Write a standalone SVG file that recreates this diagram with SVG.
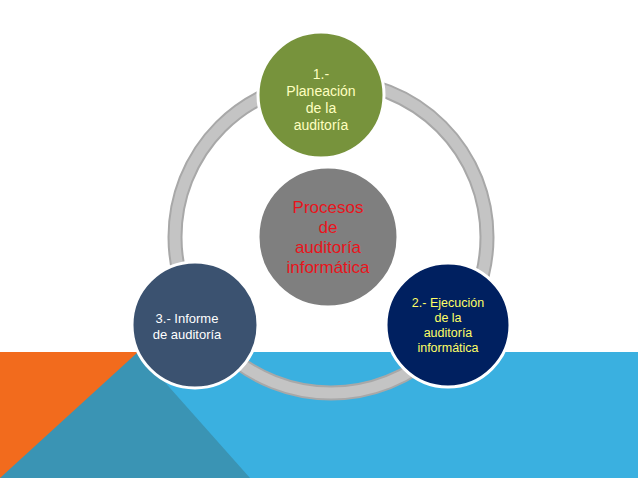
<svg xmlns="http://www.w3.org/2000/svg" width="638" height="479" viewBox="0 0 638 479">
<style>
.n{stroke:#fff;stroke-width:3}
text{font-family:"Liberation Sans",Arial,sans-serif;text-anchor:middle}
</style>
<rect width="638" height="479" fill="#fff"/>
<rect x="0" y="352" width="638" height="126" fill="#3ab0e0"/>
<rect x="0" y="352" width="140" height="126" fill="#f26b1d"/>
<polygon points="138,352 0,478 250,478" fill="#3a94b4"/>
<g id="connectors">
<circle cx="331" cy="237" r="156" fill="none" stroke="#a8a8a8" stroke-width="15"/>
<circle cx="331" cy="237" r="156" fill="none" stroke="#c4c4c4" stroke-width="11"/>
</g>
<g id="center"><circle class="n" cx="328" cy="237" r="70" fill="#7f7f7f"/>
<text font-size="17" fill="#e8141c"><tspan x="328" y="213">Procesos</tspan><tspan x="328" y="233">de</tspan><tspan x="328" y="253">auditoría</tspan><tspan x="328" y="273">informática</tspan></text></g>
<g id="n1"><circle class="n" cx="321" cy="95" r="63" fill="#77933c"/>
<text font-size="14" fill="#ffffc0"><tspan x="321" y="79">1.-</tspan><tspan x="321" y="96">Planeación</tspan><tspan x="321" y="113">de la</tspan><tspan x="321" y="130">auditoría</tspan></text></g>
<g id="n2"><circle class="n" cx="448" cy="325" r="62" fill="#002060"/>
<text font-size="12.5" fill="#ffff66"><tspan x="448" y="307">2.- Ejecución</tspan><tspan x="448" y="322">de la</tspan><tspan x="448" y="337">auditoría</tspan><tspan x="448" y="352">informática</tspan></text></g>
<g id="n3"><circle class="n" cx="195" cy="325" r="63" fill="#3b5270"/>
<text font-size="13" fill="#fff"><tspan x="187" y="323">3.- Informe</tspan><tspan x="187" y="339">de auditoría</tspan></text></g>
</svg>
